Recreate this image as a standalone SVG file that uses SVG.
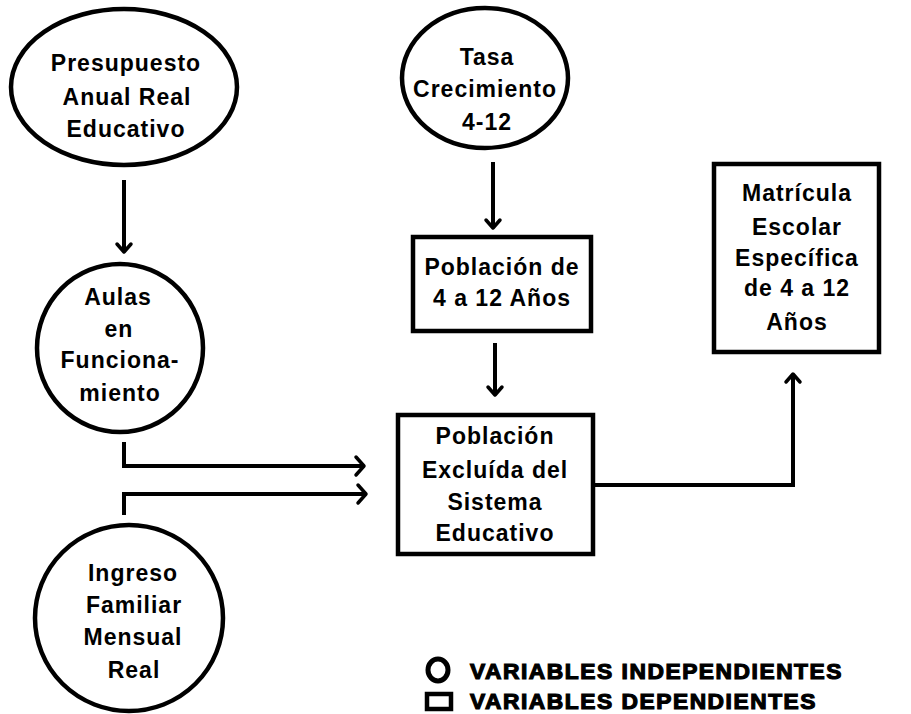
<svg xmlns="http://www.w3.org/2000/svg" width="911" height="714" viewBox="0 0 911 714">
<style>
.shape{fill:#fff;stroke:#000;stroke-width:4.5}
.conn{fill:none;stroke:#000;stroke-width:4;stroke-linejoin:miter}
.head{fill:none;stroke:#000;stroke-width:3.5;stroke-linecap:round;stroke-linejoin:round}
text{font-family:"Liberation Sans",Arial,sans-serif;font-size:23px;font-weight:bold;letter-spacing:1px;text-anchor:middle;fill:#000}
.leg{font-size:22px;font-weight:900;text-anchor:start;letter-spacing:1.5px;stroke:#000;stroke-width:1.2}
</style>
<rect width="911" height="714" fill="#fff"/>
<g id="connectors">
  <path class="conn" d="M124 180 V250"/>
  <path class="head" d="M117 244 L124 252 L131 244"/>
  <path class="conn" d="M493 162 V226"/>
  <path class="head" d="M486 220 L493 228 L500 220"/>
  <path class="conn" d="M495 343 V393"/>
  <path class="head" d="M488 387 L495 395 L502 387"/>
  <path class="conn" d="M124 442 V466 H362"/>
  <path class="head" d="M356 457 L364 466 L356 475"/>
  <path class="conn" d="M124 515 V494 H364"/>
  <path class="head" d="M358 485 L366 494 L358 503"/>
  <path class="conn" d="M594 485 H793 V376"/>
  <path class="head" d="M786 382 L793 374 L800 382"/>
</g>
<g id="presupuesto">
  <ellipse class="shape" cx="124" cy="87" rx="113" ry="78"/>
  <text x="126" y="71">Presupuesto</text>
  <text x="127" y="105">Anual Real</text>
  <text x="126" y="137">Educativo</text>
</g>
<g id="aulas">
  <ellipse class="shape" cx="120" cy="348" rx="83" ry="84"/>
  <text x="118" y="305">Aulas</text>
  <text x="119" y="337">en</text>
  <text x="120" y="368">Funciona-</text>
  <text x="120" y="401">miento</text>
</g>
<g id="ingreso">
  <ellipse class="shape" cx="129" cy="618" rx="94" ry="93"/>
  <text x="133" y="581">Ingreso</text>
  <text x="134" y="613">Familiar</text>
  <text x="133" y="645">Mensual</text>
  <text x="134" y="678">Real</text>
</g>
<g id="tasa">
  <ellipse class="shape" cx="485" cy="78" rx="83" ry="70"/>
  <text x="487" y="65">Tasa</text>
  <text x="485" y="97">Crecimiento</text>
  <text x="487" y="130">4-12</text>
</g>
<g id="poblacion412">
  <rect class="shape" x="413" y="237" width="178" height="94"/>
  <text x="502" y="275">Población de</text>
  <text x="502" y="306">4 a 12 Años</text>
</g>
<g id="excluida">
  <rect class="shape" x="398" y="415" width="195" height="139"/>
  <text x="495" y="444">Población</text>
  <text x="495" y="478">Excluída del</text>
  <text x="495" y="510">Sistema</text>
  <text x="495" y="541">Educativo</text>
</g>
<g id="matricula">
  <rect class="shape" x="714" y="164" width="165" height="188"/>
  <text x="797" y="201">Matrícula</text>
  <text x="797" y="235">Escolar</text>
  <text x="797" y="266">Específica</text>
  <text x="797" y="296">de 4 a 12</text>
  <text x="797" y="330">Años</text>
</g>
<g id="legend">
  <ellipse cx="438" cy="670" rx="10" ry="11" fill="none" stroke="#000" stroke-width="5"/>
  <text class="leg" x="470" y="679" textLength="373" lengthAdjust="spacingAndGlyphs">VARIABLES INDEPENDIENTES</text>
  <rect x="427" y="694" width="24" height="15" fill="none" stroke="#000" stroke-width="4.5"/>
  <text class="leg" x="470" y="709" textLength="347" lengthAdjust="spacingAndGlyphs">VARIABLES DEPENDIENTES</text>
</g>
</svg>
